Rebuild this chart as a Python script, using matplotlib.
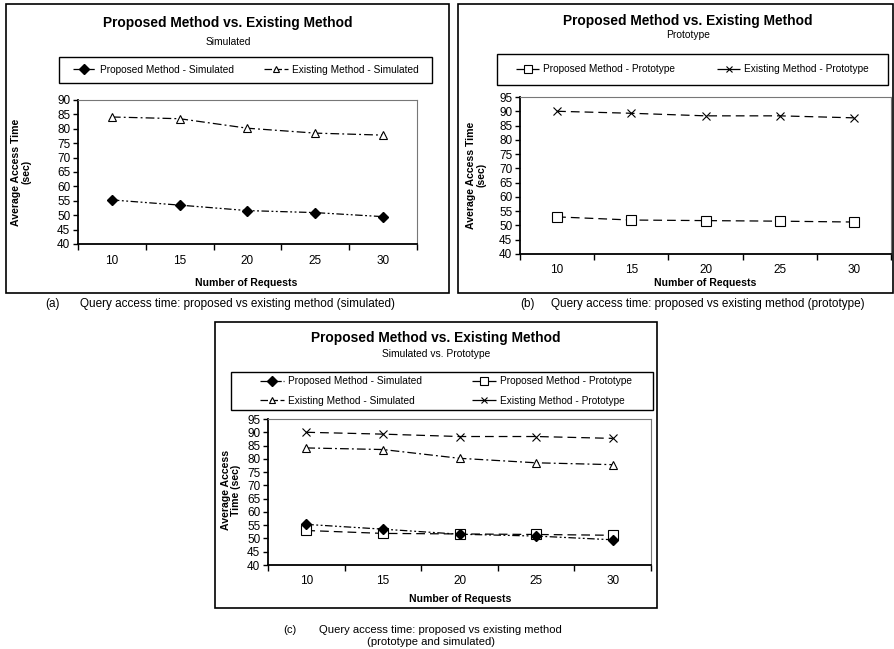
import matplotlib
matplotlib.use("Agg")
import matplotlib.pyplot as plt
from matplotlib.lines import Line2D
from matplotlib.patches import Rectangle

plt.rcParams['font.family'] = ['Liberation Sans', 'DejaVu Sans']

# ---- data ----
requests = [10, 15, 20, 25, 30]
proposed_sim = [55.3, 53.5, 51.6, 50.9, 49.5]
existing_sim = [84.1, 83.5, 80.2, 78.5, 77.8]
proposed_proto = [53.0, 51.9, 51.7, 51.5, 51.2]
existing_proto = [90.0, 89.3, 88.4, 88.4, 87.7]

W, H = 895, 649
fig = plt.figure(figsize=(W / 100, H / 100), dpi=100)


def fx(px):
    return px / W


def fy(py):
    return 1 - py / H


def add_rect(x0, y0, x1, y1, lw=1.2, color='black'):
    fig.patches.append(Rectangle((fx(x0), fy(y1)), fx(x1) - fx(x0), fy(y0) - fy(y1),
                                 transform=fig.transFigure, fill=False,
                                 edgecolor=color, linewidth=lw))


def ftext(x, y, s, **kw):
    fig.text(fx(x), fy(y), s, **kw)


styles = {
    'Proposed Method - Simulated': dict(marker='D', ms=5.5, mfc='black', mec='black',
                                        dashes=(6, 2, 1.5, 2, 1.5, 2)),
    'Existing Method - Simulated': dict(marker='^', ms=5.5, mfc='white', mec='black',
                                        mew=0.8, dashes=(7, 2.5, 1.5, 2.5)),
    'Proposed Method - Prototype': dict(marker='s', ms=6.5, mfc='white', mec='black',
                                        mew=0.8, dashes=(7, 4)),
    'Existing Method - Prototype': dict(marker='x', ms=5.5, mec='black', mew=0.8,
                                        dashes=(7, 4)),
}

# short dash patterns for the legend keys
legend_dashes = {
    'Proposed Method - Simulated': (6, 1.5, 1.5, 2),
    'Existing Method - Simulated': (6, 2, 6, 2),
    'Proposed Method - Prototype': (8, 0.01),
    'Existing Method - Prototype': (8, 0.01),
}


def make_axes(x0, y0, x1, y1, ymax, xpad):
    ax = fig.add_axes([fx(x0), fy(y1), fx(x1) - fx(x0), fy(y0) - fy(y1)])
    ax.set_xlim(0.5, len(requests) + 0.5)
    ax.set_ylim(40, ymax)
    ax.set_yticks(range(40, ymax + 1, 5))
    ax.set_xticks(range(1, len(requests) + 1))
    ax.set_xticklabels([str(r) for r in requests])
    ax.set_xticks([i + 0.5 for i in range(0, len(requests) + 1)], minor=True)
    ax.tick_params(axis='x', which='major', length=0, labelsize=8.5, pad=xpad)
    ax.tick_params(axis='x', which='minor', length=4, width=1, direction='out')
    ax.tick_params(axis='y', length=3.5, width=1, direction='out', labelsize=8.5, pad=2)
    for s in ('left', 'bottom'):
        ax.spines[s].set_linewidth(1.3)
    for s in ('top', 'right'):
        ax.spines[s].set_linewidth(0.8)
        ax.spines[s].set_color('#777777')
    return ax


def plot_series(ax, name, values):
    st = dict(styles[name])
    dashes = st.pop('dashes')
    line, = ax.plot(range(1, len(values) + 1), values, color='black', lw=0.9,
                    dashes=dashes, label=name, **st)
    return line


def legend_handle(name):
    st = dict(styles[name])
    st.pop('dashes')
    st['ms'] = st['ms'] * 0.85
    return Line2D([0], [0], color='black', lw=0.9, dashes=legend_dashes[name], **st)


def panel_legend(names, x0, y0, x1, y1, ncol, colsp, cx=None):
    add_rect(x0, y0, x1, y1, lw=1.0)
    if cx is None:
        cx = (x0 + x1) / 2
    fig.legend([legend_handle(n) for n in names], names, loc='center',
               bbox_to_anchor=(fx(cx), fy((y0 + y1) / 2)),
               ncol=ncol, frameon=False, fontsize=7.3, handlelength=2.3,
               handletextpad=0.4, columnspacing=colsp, labelspacing=0.95,
               borderpad=0.2)


title_kw = dict(ha='center', va='center', fontsize=9.9, fontweight='bold')
sub_kw = dict(ha='center', va='center', fontsize=7.4)
lab_kw = dict(ha='center', va='center', fontsize=7.6, fontweight='bold')
cap_kw = dict(ha='left', va='center', fontsize=8.5)

# ---- panel (a): simulated ----
add_rect(6, 4, 449, 293)
ftext(228, 23, 'Proposed Method vs. Existing Method', **title_kw)
ftext(228, 42, 'Simulated', **sub_kw)
panel_legend(['Proposed Method - Simulated', 'Existing Method - Simulated'],
             59, 57, 432, 83, 2, 3.0)
ax_a = make_axes(78, 100, 417, 244, 90, 8)
plot_series(ax_a, 'Proposed Method - Simulated', proposed_sim)
plot_series(ax_a, 'Existing Method - Simulated', existing_sim)
ftext(21, 172, 'Average Access Time\n(sec)', rotation=90, linespacing=1.1, **lab_kw)
ftext(246, 283, 'Number of Requests', **lab_kw)

# ---- panel (b): prototype ----
add_rect(458, 4, 893, 293)
ftext(688, 21, 'Proposed Method vs. Existing Method', **title_kw)
ftext(688, 35, 'Prototype', **sub_kw)
panel_legend(['Proposed Method - Prototype', 'Existing Method - Prototype'],
             497, 54, 888, 85, 2, 4.1)
ax_b = make_axes(520, 97, 891, 254, 95, 7.5)
plot_series(ax_b, 'Proposed Method - Prototype', proposed_proto)
plot_series(ax_b, 'Existing Method - Prototype', existing_proto)
ftext(476, 175, 'Average Access Time\n(sec)', rotation=90, linespacing=1.1, **lab_kw)
ftext(705, 283, 'Number of Requests', **lab_kw)

# ---- panel (c): simulated vs prototype ----
add_rect(215, 322, 657, 608)
ftext(436, 338, 'Proposed Method vs. Existing Method', **title_kw)
ftext(436, 354, 'Simulated vs. Prototype', **sub_kw)
panel_legend(['Proposed Method - Simulated', 'Existing Method - Simulated',
              'Proposed Method - Prototype', 'Existing Method - Prototype'],
             231, 372, 653, 410, 2, 5.0, cx=446)
ax_c = make_axes(268, 419, 651, 565, 95, 7.5)
# prototype series first so the filled diamonds sit on top of the squares
plot_series(ax_c, 'Proposed Method - Prototype', proposed_proto)
plot_series(ax_c, 'Existing Method - Prototype', existing_proto)
plot_series(ax_c, 'Existing Method - Simulated', existing_sim)
plot_series(ax_c, 'Proposed Method - Simulated', proposed_sim)
ftext(231, 490, 'Average Access\nTime (sec)', rotation=90, linespacing=1.1, **lab_kw)
ftext(460, 599, 'Number of Requests', **lab_kw)

# ---- captions ----
ftext(45, 304, '(a)', **cap_kw)
ftext(80, 304, 'Query access time: proposed vs existing method (simulated)', **cap_kw)
ftext(520, 304, '(b)', **cap_kw)
ftext(551, 304, 'Query access time: proposed vs existing method (prototype)', **cap_kw)
ftext(283, 630, '(c)', ha='left', va='center', fontsize=8.1)
ftext(319, 630, 'Query access time: proposed vs existing method',
      ha='left', va='center', fontsize=8.1)
ftext(431, 642, '(prototype and simulated)', ha='center', va='center', fontsize=8.1)

fig.savefig('out.png', dpi=100)
